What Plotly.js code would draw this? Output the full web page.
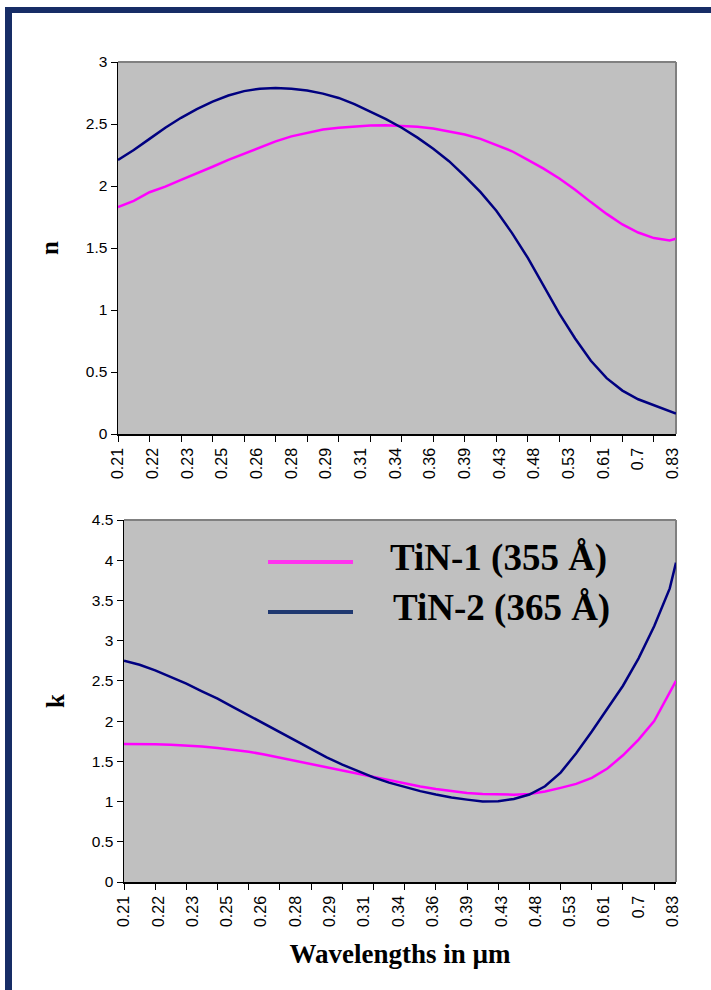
<!DOCTYPE html>
<html>
<head>
<meta charset="utf-8">
<script src="https://cdn.plot.ly/plotly-3.0.1.min.js"></script>
<style>
  html, body { margin: 0; padding: 0; background: #ffffff; }
  #frame { position: absolute; left: 5px; top: 7px; width: 706px; height: 983px;
           border-left: 7px solid #172d66; border-top: 6px solid #172d66;
           box-sizing: border-box; pointer-events: none; z-index: 5; }
  #chart { position: absolute; left: 0; top: 0; width: 711px; height: 990px; }
</style>
</head>
<body>
<div id="chart"></div>
<div id="frame"></div>
<script>
// Category axis: wavelength labels printed every 11 samples, tick marks every 10 samples
const tickLabels = ['0.21','0.22','0.23','0.25','0.26','0.28','0.29','0.31','0.34','0.36','0.39','0.43','0.48','0.53','0.61','0.7','0.83'];
const labelStep = 11;
const tickStep = 10;
const lastSample = 177;

// sample numbers (category positions) at which values were read
const sampleNo = [0,5,10,15,20,25,30,35,40,45,50,55,60,65,70,75,80,85,90,95,100,105,110,115,120,125,130,135,140,145,150,155,160,165,170,175,177];

const seriesNames = ['TiN-1 (355 Å)', 'TiN-2 (365 Å)'];

// refractive index n
const n_TiN1 = [1.83,1.88,1.95,1.995,2.05,2.10,2.155,2.21,2.26,2.31,2.36,2.40,2.43,2.455,2.47,2.48,2.487,2.49,2.487,2.478,2.464,2.44,2.415,2.38,2.33,2.28,2.21,2.14,2.06,1.97,1.87,1.775,1.69,1.625,1.58,1.56,1.575];
const n_TiN2 = [2.21,2.29,2.38,2.47,2.55,2.62,2.68,2.73,2.765,2.785,2.79,2.785,2.77,2.745,2.71,2.66,2.60,2.54,2.47,2.39,2.30,2.20,2.08,1.95,1.80,1.62,1.42,1.20,0.97,0.77,0.59,0.45,0.35,0.28,0.23,0.18,0.165];

// extinction coefficient k
const k_TiN1 = [1.717,1.717,1.713,1.706,1.697,1.684,1.665,1.645,1.62,1.585,1.545,1.505,1.463,1.425,1.387,1.348,1.308,1.265,1.22,1.188,1.157,1.13,1.107,1.095,1.086,1.086,1.095,1.124,1.17,1.22,1.295,1.41,1.575,1.77,2.0,2.37,2.50];
const k_TiN2 = [2.75,2.70,2.63,2.55,2.465,2.37,2.28,2.175,2.07,1.965,1.86,1.755,1.65,1.55,1.46,1.38,1.30,1.235,1.18,1.13,1.087,1.05,1.024,1.0,1.003,1.032,1.087,1.19,1.36,1.60,1.87,2.16,2.44,2.78,3.18,3.65,3.97];

const colors = ['#ff00ff', '#000080'];

const tickVals = tickLabels.map((_, i) => i * labelStep);

const W = 711, H = 990;
const mL = 118, mR = 35, mT = 62, mB = 108;
const pw = W - mL - mR, ph = H - mT - mB;
const px2x = p => (p - mL) / pw;
const py2y = p => (H - mB - p) / ph;

const xTickFont = { family: 'Arial, "Liberation Sans", sans-serif', size: 16, color: '#000' };
const yTickFont = { family: 'Arial, "Liberation Sans", sans-serif', size: 15.5, color: '#000' };
const serif = '"Times New Roman", "Liberation Serif", serif';
const xTitleFont = { family: serif, size: 27, color: '#000', weight: 'bold' };
const yTitleFont = { family: serif, size: 25, color: '#000', weight: 'bold' };

function xAxis(domain, anchor, showTitle) {
  const ax = {
    domain: domain, anchor: anchor,
    range: [0, lastSample], type: 'linear',
    tickmode: 'array', tickvals: tickVals, ticktext: tickLabels,
    tickangle: -90, tickfont: xTickFont,
    ticks: 'outside', ticklen: 6, tickcolor: 'rgba(0,0,0,0)',
    minor: { tickmode: 'linear', tick0: 0, dtick: tickStep, ticks: 'outside', ticklen: 6, tickwidth: 1, tickcolor: '#000', showgrid: false },
    showline: true, linecolor: '#000', linewidth: 1.5,
    showgrid: false, zeroline: false, fixedrange: true, automargin: false
  };
  if (showTitle) ax.title = { text: 'Wavelengths in µm', font: xTitleFont, standoff: 18 };
  return ax;
}
function yAxis(domain, anchor, maxv, title, standoff) {
  return {
    domain: domain, anchor: anchor,
    range: [0, maxv], dtick: 0.5, tick0: 0,
    tickfont: yTickFont, ticks: 'outside', ticklen: 6, tickcolor: '#000',
    showline: true, linecolor: '#000', linewidth: 1.5,
    showgrid: false, zeroline: false, fixedrange: true, automargin: false,
    title: { text: title, font: yTitleFont, standoff: standoff }
  };
}

const traces = [
  { x: sampleNo, y: n_TiN1, xaxis: 'x', yaxis: 'y', name: seriesNames[0], mode: 'lines', line: { color: colors[0], width: 2.5 }, showlegend: false },
  { x: sampleNo, y: n_TiN2, xaxis: 'x', yaxis: 'y', name: seriesNames[1], mode: 'lines', line: { color: colors[1], width: 2.5 }, showlegend: false },
  { x: sampleNo, y: k_TiN1, xaxis: 'x2', yaxis: 'y2', name: seriesNames[0], mode: 'lines', line: { color: colors[0], width: 2.5 }, showlegend: false },
  { x: sampleNo, y: k_TiN2, xaxis: 'x2', yaxis: 'y2', name: seriesNames[1], mode: 'lines', line: { color: colors[1], width: 2.5 }, showlegend: false }
];

const frameLine = { color: '#808080', width: 2 };
const shapes = [
  { type: 'line', xref: 'x domain', yref: 'y domain', x0: 0, x1: 1, y0: 1, y1: 1, line: frameLine, layer: 'below' },
  { type: 'line', xref: 'x domain', yref: 'y domain', x0: 1, x1: 1, y0: 0, y1: 1, line: frameLine, layer: 'below' },
  { type: 'line', xref: 'x2 domain', yref: 'y2 domain', x0: 0, x1: 1, y0: 1, y1: 1, line: frameLine, layer: 'below' },
  { type: 'line', xref: 'x2 domain', yref: 'y2 domain', x0: 1, x1: 1, y0: 0, y1: 1, line: frameLine, layer: 'below' },
  // legend samples
  { type: 'line', xref: 'paper', yref: 'paper', x0: px2x(268), x1: px2x(353), y0: py2y(562), y1: py2y(562), line: { color: '#ff33ee', width: 4 } },
  { type: 'line', xref: 'paper', yref: 'paper', x0: px2x(268), x1: px2x(353), y0: py2y(612), y1: py2y(612), line: { color: '#1f3870', width: 4 } }
];

const legendFont = { family: serif, size: 37, color: '#000', weight: 'bold' };
const annotations = [
  { xref: 'paper', yref: 'paper', x: px2x(388), y: py2y(558), xanchor: 'left', yanchor: 'middle', text: '<b>' + seriesNames[0] + '</b>', showarrow: false, font: legendFont },
  { xref: 'paper', yref: 'paper', x: px2x(391), y: py2y(608), xanchor: 'left', yanchor: 'middle', text: '<b>' + seriesNames[1] + '</b>', showarrow: false, font: legendFont }
];

const layout = {
  width: W, height: H,
  margin: { l: mL, r: mR, t: mT, b: mB, pad: 0 },
  paper_bgcolor: '#ffffff', plot_bgcolor: '#c0c0c0',
  showlegend: false,
  xaxis: xAxis([0, 1], 'y', false),
  yaxis: yAxis([py2y(434), py2y(62)], 'x', 3, 'n', 20),
  xaxis2: xAxis([px2x(124), 1], 'y2', true),
  yaxis2: yAxis([py2y(882), py2y(520)], 'x2', 4.5, 'k', 20),
  shapes: shapes,
  annotations: annotations
};

Plotly.newPlot('chart', traces, layout, { staticPlot: true, displayModeBar: false });
</script>
</body>
</html>
